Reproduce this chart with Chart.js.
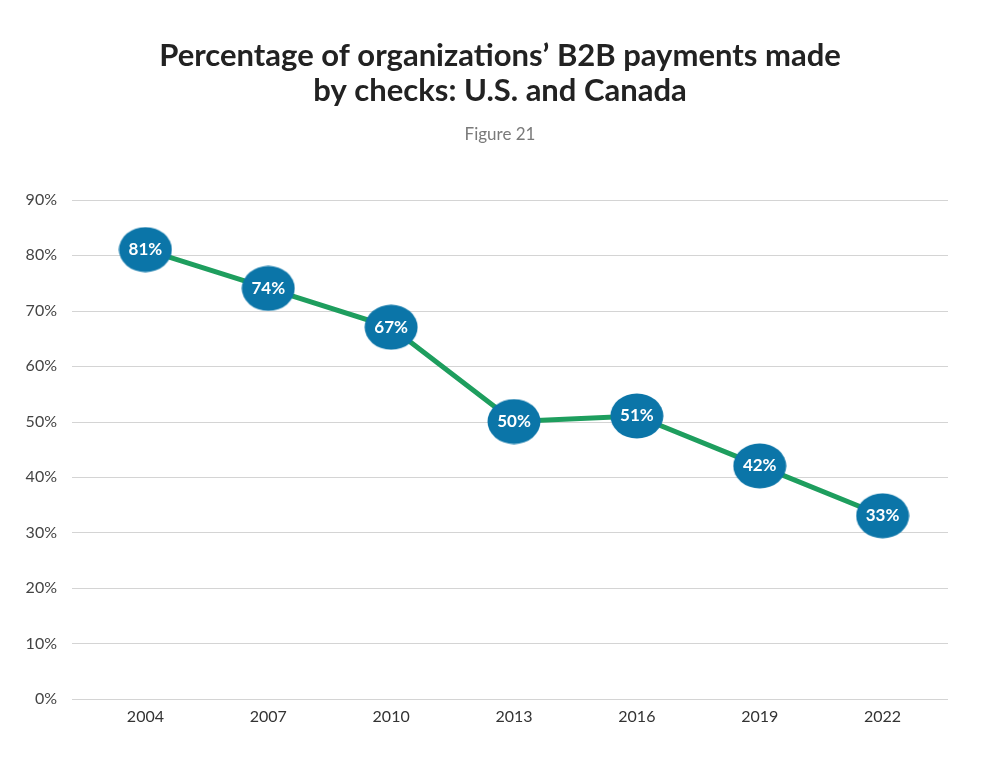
<!DOCTYPE html>
<html>
<head>
<meta charset="utf-8">
<script src="https://cdn.jsdelivr.net/npm/chart.js@4"></script>
<style>
    html, body { margin: 0; padding: 0; background: #fff; }
    #wrap { width: 1000px; height: 772px; }
</style>
</head>
<body>
<div id="wrap"><canvas id="checksChart" width="1000" height="772"></canvas></div>
<script>
const years = ['2004', '2007', '2010', '2013', '2016', '2019', '2022'];
const checkShare = [81, 74, 67, 50, 51, 42, 33];
const yTicks = [0, 10, 20, 30, 40, 50, 60, 70, 80, 90];

// blue ellipse used as the point marker
const marker = document.createElement('canvas');
marker.width = 54;
marker.height = 46;
const mctx = marker.getContext('2d');
mctx.fillStyle = '#0b75a8';
mctx.beginPath();
mctx.ellipse(27, 23, 26.5, 22.5, 0, 0, Math.PI * 2);
mctx.fill();

// horizontal grid lines, a bit wider than the plot area like the original
const wideGrid = {
    id: 'wideGrid',
    beforeDatasetsDraw(chart) {
        const { ctx, chartArea, scales } = chart;
        ctx.save();
        ctx.strokeStyle = '#d4d4d4';
        ctx.lineWidth = 1.2;
        yTicks.forEach(v => {
            const y = Math.round(scales.y.getPixelForValue(v)) + 0.5;
            ctx.beginPath();
            ctx.moveTo(chartArea.left - 12, y);
            ctx.lineTo(chartArea.right + 4, y);
            ctx.stroke();
        });
        ctx.restore();
    }
};

const pointLabels = {
    id: 'pointLabels',
    afterDatasetsDraw(chart) {
        const ctx = chart.ctx;
        const meta = chart.getDatasetMeta(0);
        ctx.save();
        ctx.fillStyle = '#fff';
        ctx.font = 'bold 17px Lato, "Open Sans", sans-serif';
        ctx.textAlign = 'center';
        ctx.textBaseline = 'middle';
        meta.data.forEach((pt, i) => {
            ctx.fillText(checkShare[i] + '%', pt.x, pt.y);
        });
        ctx.restore();
    }
};

document.addEventListener('DOMContentLoaded', () => {
    const ctx = document.getElementById('checksChart').getContext('2d');
    const checksChart = new Chart(ctx, {
        type: 'line',
        data: {
            labels: years,
            datasets: [{
                label: 'Checks',
                data: checkShare,
                borderColor: '#1e9e5e',
                borderWidth: 5,
                tension: 0,
                pointStyle: marker,
                pointRadius: 4,
                pointHoverRadius: 4
            }]
        },
        options: {
            responsive: false,
            animation: false,
            layout: {
                padding: { top: 22, left: 0, right: 0, bottom: 46 }
            },
            scales: {
                x: {
                    offset: true,
                    grid: { display: false },
                    border: { display: false },
                    ticks: {
                        color: '#333',
                        padding: 0,
                        font: { size: 16, family: 'Lato, "Open Sans", sans-serif' }
                    }
                },
                y: {
                    min: 0,
                    max: 90,
                    afterBuildTicks(axis) {
                        axis.ticks = yTicks.map(v => ({ value: v }));
                    },
                    afterFit(axis) {
                        axis.width = 84;
                    },
                    grid: { display: false, drawTicks: false },
                    border: { display: false },
                    ticks: {
                        color: '#444',
                        padding: 27,
                        font: { size: 16, family: 'Lato, "Open Sans", sans-serif' },
                        callback: v => v + '%'
                    }
                },
                // empty right-hand axis, only keeps space free on the right
                spacer: {
                    position: 'right',
                    grid: { display: false, drawTicks: false },
                    border: { display: false },
                    ticks: { display: false },
                    afterFit(axis) {
                        axis.width = 56;
                    }
                }
            },
            plugins: {
                legend: { display: false },
                tooltip: { enabled: false },
                title: {
                    display: true,
                    text: ['Percentage of organizations\u2019 B2B payments made', 'by checks: U.S. and Canada'],
                    color: '#222',
                    font: { size: 31, weight: 'bold', family: 'Lato, "Open Sans", sans-serif', lineHeight: 1.15 },
                    padding: { top: 16, bottom: 15 }
                },
                subtitle: {
                    display: true,
                    text: 'Figure 21',
                    color: '#7a7a7a',
                    font: { size: 17, family: 'Lato, "Open Sans", sans-serif' },
                    padding: { bottom: 55 }
                }
            }
        },
        plugins: [wideGrid, pointLabels]
    });
});
</script>
</body>
</html>
